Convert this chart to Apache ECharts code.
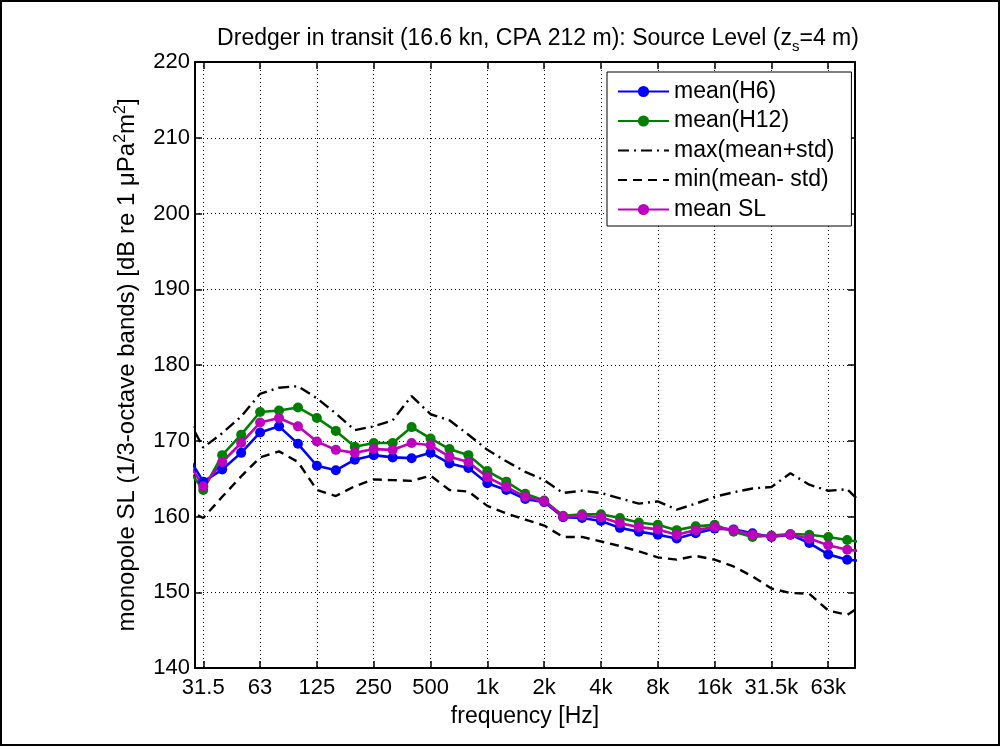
<!DOCTYPE html>
<html>
<head>
<meta charset="utf-8">
<title>Dredger in transit - Source Level</title>
<script src="https://cdn.jsdelivr.net/npm/echarts@6/dist/echarts.min.js"></script>
<style>
    html, body { margin: 0; padding: 0; background: #fff; }
    #chart { width: 1002px; height: 747px; }
</style>
</head>
<body>
<div id="chart"></div>
<script>
// 1/3-octave band centre frequencies [Hz]
var freqHz = [24.8, 31.25, 39.37, 49.61, 62.5, 78.75, 99.21, 125, 157.49, 198.43, 250, 314.98,
    396.85, 500, 629.96, 793.7, 1000, 1259.92, 1587.4, 2000, 2519.84, 3174.8, 4000, 5039.68,
    6349.6, 8000, 10079.37, 12699.21, 16000, 20158.74, 25398.42, 32000, 40317.47, 50796.84,
    64000, 80634.95, 101593.67];

// levels [dB re 1 uPa^2 m^2]
var meanH6 = [168.7, 164.6, 166.2, 168.4, 171.1, 171.9, 169.6, 166.7, 166.1, 167.5, 168.1, 167.8,
    167.7, 168.4, 167.0, 166.4, 164.4, 163.5, 162.3, 161.9, 159.9, 159.8, 159.4, 158.5,
    158.0, 157.6, 157.1, 157.8, 158.4, 158.3, 157.8, 157.3, 157.6, 156.5, 155.0, 154.3, 154.1];
var meanH12 = [166.9, 163.5, 168.1, 170.8, 173.8, 174.0, 174.4, 173.0, 171.3, 169.2, 169.7, 169.7,
    171.8, 170.3, 168.9, 168.1, 166.0, 164.6, 163.0, 162.1, 160.1, 160.3, 160.3, 159.8,
    159.2, 158.9, 158.2, 158.7, 158.9, 158.0, 157.3, 157.5, 157.7, 157.6, 157.3, 156.9, 156.5];
var maxMeanStd = [173.8, 169.1, 171.0, 173.2, 176.2, 177.0, 177.2, 175.6, 173.6, 171.4, 171.9, 172.7,
    175.9, 173.5, 172.7, 170.8, 168.8, 167.3, 165.9, 164.8, 163.1, 163.4, 163.1, 162.4,
    161.7, 162.0, 160.9, 161.7, 162.6, 163.2, 163.7, 163.9, 165.7, 164.2, 163.4, 163.6, 161.2];
var minMeanStd = [161.0, 159.8, 162.6, 165.3, 167.8, 168.6, 167.2, 163.5, 162.7, 164.0, 164.9, 164.8,
    164.7, 165.4, 163.5, 163.3, 161.4, 160.4, 159.6, 158.8, 157.3, 157.3, 156.7, 156.1,
    155.4, 154.6, 154.3, 154.8, 154.3, 153.4, 152.1, 150.5, 149.9, 149.8, 147.6, 147.0, 148.7];
var meanSL = [167.9, 164.0, 167.2, 169.7, 172.4, 173.0, 171.9, 169.9, 168.8, 168.4, 168.9, 168.8,
    169.7, 169.4, 167.9, 167.2, 165.2, 163.9, 162.6, 162.0, 160.0, 160.1, 159.9, 159.1,
    158.6, 158.3, 157.6, 158.2, 158.6, 158.2, 157.6, 157.4, 157.6, 157.1, 156.2, 155.6, 155.4];

// axes
var xLimHz = [28.25, 88700];
var tickHz = [31.25, 62.5, 125, 250, 500, 1000, 2000, 4000, 8000, 16000, 32000, 64000];
var tickLabels = ['31.5', '63', '125', '250', '500', '1k', '2k', '4k', '8k', '16k', '31.5k', '63k'];
var yMin = 140, yMax = 220, yStep = 10;

var FONT = '"Liberation Sans", Arial, Helvetica, sans-serif';

// octaves relative to 1 kHz
function oct(f) {
    return Math.log2(f / 1000);
}
function pairs(vals) {
    return freqHz.map(function (f, i) {
        return [oct(f), vals[i]];
    });
}
var tickOct = tickHz.map(oct);
function tickLabel(v) {
    var best = 0;
    for (var i = 1; i < tickOct.length; i++) {
        if (Math.abs(tickOct[i] - v) < Math.abs(tickOct[best] - v)) best = i;
    }
    return tickLabels[best];
}

var myChart = echarts.init(document.getElementById('chart'));

var boxLine = {show: true, onZero: false, lineStyle: {color: '#000', width: 2}};
var inTick = {show: true, inside: true, length: 7, lineStyle: {color: '#000', width: 1.5}};
var dotGrid = {show: true, lineStyle: {color: '#000', width: 1, type: [1, 3]}};

function lineSeries(name, vals, color) {
    return {
        name: name,
        type: 'line',
        data: pairs(vals),
        symbol: 'circle',
        symbolSize: 10,
        lineStyle: {color: color, width: 2.6},
        itemStyle: {color: color},
        emphasis: {disabled: true}
    };
}
function boundSeries(name, vals, dash) {
    return {
        name: name,
        type: 'line',
        data: pairs(vals),
        symbol: 'none',
        lineStyle: {color: '#000', width: 2.4, type: dash},
        itemStyle: {color: '#000'},
        emphasis: {disabled: true}
    };
}

var noDot = {color: 'rgba(0,0,0,0)', borderWidth: 0};

var option = {
    animation: false,
    backgroundColor: '#fff',
    textStyle: {fontFamily: FONT, color: '#000'},
    title: {
        text: 'Dredger in transit (16.6 kn, CPA 212 m): Source Level (z{s|s}=4 m)',
        left: 533,
        top: 19,
        textAlign: 'center',
        textStyle: {
            fontFamily: FONT,
            fontSize: 23,
            fontWeight: 'normal',
            color: '#000',
            lineHeight: 30,
            rich: {
                s: {fontFamily: FONT, fontSize: 15, color: '#000', lineHeight: 30, verticalAlign: 'bottom'}
            }
        }
    },
    grid: {left: 195, right: 147, top: 62, bottom: 79, containLabel: false},
    legend: {
        orient: 'vertical',
        left: 607,
        top: 72,
        itemWidth: 51,
        itemHeight: 14,
        itemGap: 6.5,
        padding: [8, 17, 5, 10],
        borderColor: '#000',
        borderWidth: 1,
        backgroundColor: '#fff',
        textStyle: {fontFamily: FONT, fontSize: 23, color: '#000'},
        data: [
            'mean(H6)',
            'mean(H12)',
            {name: 'max(mean+std)', itemStyle: noDot},
            {name: 'min(mean- std)', itemStyle: noDot},
            'mean SL'
        ]
    },
    xAxis: [
        {
            type: 'value',
            position: 'bottom',
            min: oct(xLimHz[0]),
            max: oct(xLimHz[1]),
            axisLine: boxLine,
            axisTick: {show: true, inside: true, length: 7, lineStyle: {color: '#000', width: 1.5}, customValues: tickOct},
            axisLabel: {customValues: tickOct, formatter: tickLabel, fontFamily: FONT, fontSize: 22, color: '#000', margin: 9},
            splitLine: dotGrid,
            name: 'frequency [Hz]',
            nameLocation: 'middle',
            nameGap: 37,
            nameTextStyle: {fontFamily: FONT, fontSize: 23, color: '#000'}
        },
        {
            type: 'value',
            position: 'top',
            min: oct(xLimHz[0]),
            max: oct(xLimHz[1]),
            axisLine: boxLine,
            axisTick: {show: true, inside: true, length: 7, lineStyle: {color: '#000', width: 1.5}, customValues: tickOct},
            axisLabel: {show: false},
            splitLine: {show: false}
        }
    ],
    yAxis: [
        {
            type: 'value',
            position: 'left',
            min: yMin,
            max: yMax,
            interval: yStep,
            axisLine: boxLine,
            axisTick: inTick,
            axisLabel: {fontFamily: FONT, fontSize: 22, color: '#000', margin: 5},
            splitLine: dotGrid,
            name: 'monopole SL (1/3-octave bands) [dB re 1 \u03bcPa{sup|2}m{sup|2}]',
            nameLocation: 'middle',
            nameRotate: 90,
            nameGap: 36,
            nameTextStyle: {
                fontFamily: FONT,
                fontSize: 24,
                color: '#000',
                lineHeight: 30,
                rich: {
                    sup: {fontFamily: FONT, fontSize: 16, color: '#000', lineHeight: 30, verticalAlign: 'top'}
                }
            }
        },
        {
            type: 'value',
            position: 'right',
            min: yMin,
            max: yMax,
            interval: yStep,
            axisLine: boxLine,
            axisTick: inTick,
            axisLabel: {show: false},
            splitLine: {show: false}
        }
    ],
    graphic: [
        {
            type: 'rect',
            shape: {x: 1, y: 1, width: 998, height: 744},
            style: {fill: 'none', stroke: '#000', lineWidth: 2},
            silent: true
        }
    ],
    series: [
        lineSeries('mean(H6)', meanH6, '#0000ff'),
        lineSeries('mean(H12)', meanH12, '#008000'),
        boundSeries('max(mean+std)', maxMeanStd, [11, 5, 2, 5]),
        boundSeries('min(mean- std)', minMeanStd, [9, 6]),
        lineSeries('mean SL', meanSL, '#bf00bf')
    ]
};

myChart.setOption(option);
</script>
</body>
</html>
